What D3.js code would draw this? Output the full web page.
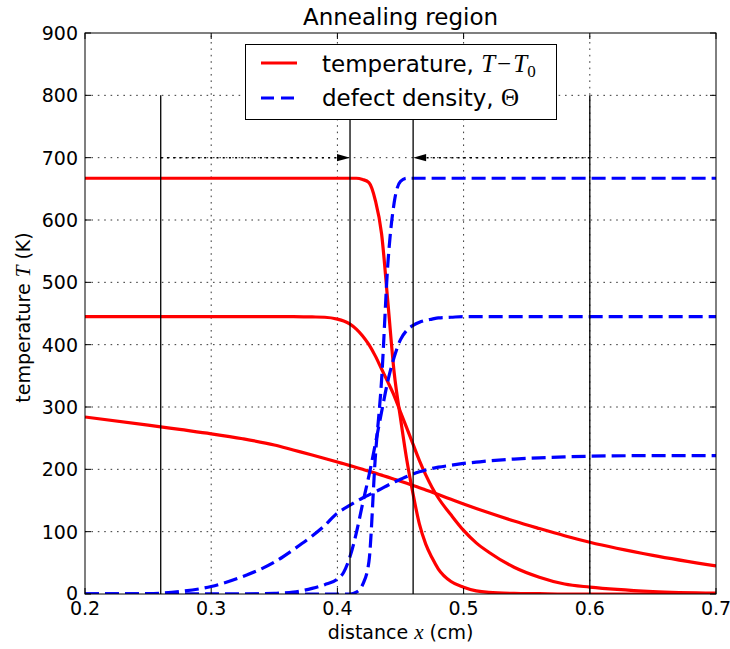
<!DOCTYPE html>
<html>
<head>
<meta charset="utf-8">
<script src="https://cdn.jsdelivr.net/npm/d3@7"></script>
<style>
  html, body { margin: 0; padding: 0; background: #fff; }
  svg { display: block; }
  text { font-family: "DejaVu Sans", sans-serif; fill: #000; }
  .math { font-family: "Liberation Serif", "DejaVu Serif", serif; }
</style>
</head>
<body>
<svg id="chart" width="730" height="649"></svg>
<script>
// Position along the bar (cm)
const xs = [0.20, 0.25, 0.275, 0.30, 0.325, 0.35, 0.365, 0.38, 0.39, 0.40, 0.405, 0.41,
            0.415, 0.42, 0.425, 0.43, 0.435, 0.44, 0.445, 0.45, 0.455, 0.46, 0.465, 0.47,
            0.475, 0.48, 0.49, 0.50, 0.51, 0.52, 0.54, 0.56, 0.58, 0.60, 0.65, 0.70];

// Temperature rise T - T0 (K), three profiles
const tempHigh = [667, 667, 667, 667, 667, 667, 667, 667, 667, 667, 667, 667,
                  667, 665, 660, 632, 578, 468, 355, 282, 215, 160, 112, 80,
                  58, 40, 20, 11, 5, 2.5, 1, 0.5, 0, 0, 0, 0];
const tempMid  = [445, 445, 445, 445, 445, 445, 445, 444.5, 444, 441, 438, 433,
                  425, 414, 400, 382, 361, 340, 318, 292, 266, 240, 214, 191,
                  171, 154, 127, 102, 82, 67, 43, 27, 16, 11, 4, 1.5];
const tempLow  = [284, 271, 264, 257, 249, 239, 231, 223, 217.5, 211.8, 208.9, 206,
                  203, 200, 197, 193.9, 190.7, 187.5, 184.2, 180.9, 177.5, 174, 170.5, 167,
                  163.3, 159.5, 152, 144.5, 137.2, 130.2, 117, 105, 93.5, 83, 62, 45];

// Defect density Theta, three profiles
const defectHigh = [0, 0, 0, 0, 0, 0, 0, 0, 0, 0, 0, 0,
                    3, 15, 52, 218, 343, 530, 628, 662, 667, 667, 667, 667,
                    667, 667, 667, 667, 667, 667, 667, 667, 667, 667, 667, 667];
const defectMid  = [0, 0, 0, 0, 0, 1, 3, 9, 15, 24, 35, 60,
                    98, 145, 190, 240, 292, 342, 380, 408, 423, 431, 436, 439,
                    441, 443, 444, 445, 445, 445, 445, 445, 445, 445, 445, 445];
const defectLow  = [0, 0.5, 4, 12, 28, 51, 71, 93, 110, 130, 136.5, 142.5,
                    148.5, 154, 159, 164, 169, 174.5, 179.5, 184, 188.5, 192.5, 196, 199,
                    201.5, 203.5, 206.5, 209.5, 211.5, 213.5, 216.5, 218.5, 220, 221, 222, 222];

// Boundaries of the annealing region and the arrows pointing at them
const markerX = [0.26, 0.41, 0.46, 0.60];
const markerTop = 800;
const arrows = [ { from: 0.26, to: 0.41 }, { from: 0.60, to: 0.46 } ];
const arrowY = 700;

const xTicks = [0.2, 0.3, 0.4, 0.5, 0.6, 0.7];
const yTicks = [0, 100, 200, 300, 400, 500, 600, 700, 800, 900];

const svg = d3.select("#chart");
const margin = { left: 85, right: 14, top: 33, bottom: 55 };
const W = 730, H = 649;
const x = d3.scaleLinear().domain([0.2, 0.7]).range([margin.left, W - margin.right]);
const y = d3.scaleLinear().domain([0, 900]).range([H - margin.bottom, margin.top]);
const x0 = x.range()[0], x1 = x.range()[1], y0 = y.range()[0], y1 = y.range()[1];

svg.append("defs").append("clipPath").attr("id", "plotclip")
  .append("rect").attr("x", x0).attr("y", y1).attr("width", x1 - x0).attr("height", y0 - y1);

// grid
const grid = svg.append("g").attr("stroke", "#000").attr("stroke-width", 0.8)
  .attr("stroke-dasharray", "1.6,4.8");
xTicks.slice(1, -1).forEach(t => grid.append("line")
  .attr("x1", x(t)).attr("x2", x(t)).attr("y1", y0).attr("y2", y1));
yTicks.slice(1, -1).forEach(t => grid.append("line")
  .attr("x1", x0).attr("x2", x1).attr("y1", y(t)).attr("y2", y(t)));

const plot = svg.append("g").attr("clip-path", "url(#plotclip)");

const line = d3.line().x(d => x(d[0])).y(d => y(d[1])).curve(d3.curveMonotoneX);
const zipped = vals => xs.map((v, i) => [v, vals[i]]);

[tempHigh, tempMid, tempLow].forEach(s => plot.append("path")
  .attr("d", line(zipped(s))).attr("fill", "none")
  .attr("stroke", "#ff0000").attr("stroke-width", 3.2));
[defectHigh, defectMid, defectLow].forEach(s => plot.append("path")
  .attr("d", line(zipped(s))).attr("fill", "none")
  .attr("stroke", "#0000ff").attr("stroke-width", 3.2)
  .attr("stroke-dasharray", "14,6"));

// vertical boundary lines
markerX.forEach(m => plot.append("line")
  .attr("x1", x(m)).attr("x2", x(m)).attr("y1", y(0)).attr("y2", y(markerTop))
  .attr("stroke", "#000").attr("stroke-width", 1.3));

// dotted arrows
arrows.forEach(a => {
  const dir = Math.sign(a.to - a.from);
  const tip = x(a.to), ay = y(arrowY), hl = 13, hw = 3.6;
  plot.append("line")
    .attr("x1", x(a.from)).attr("x2", tip - dir * hl).attr("y1", ay).attr("y2", ay)
    .attr("stroke", "#000").attr("stroke-width", 1.5).attr("stroke-dasharray", "2,4.2");
  plot.append("path")
    .attr("d", `M${tip},${ay} L${tip - dir * hl},${ay - hw} L${tip - dir * hl},${ay + hw} Z`)
    .attr("fill", "#000");
});

// frame
svg.append("rect").attr("x", x0).attr("y", y1).attr("width", x1 - x0).attr("height", y0 - y1)
  .attr("fill", "none").attr("stroke", "#000").attr("stroke-width", 1);

// inward ticks on all four sides
const tl = 6;
const ticks = svg.append("g").attr("stroke", "#000").attr("stroke-width", 1);
xTicks.forEach(t => {
  ticks.append("line").attr("x1", x(t)).attr("x2", x(t)).attr("y1", y0).attr("y2", y0 - tl);
  ticks.append("line").attr("x1", x(t)).attr("x2", x(t)).attr("y1", y1).attr("y2", y1 + tl);
});
yTicks.forEach(t => {
  ticks.append("line").attr("x1", x0).attr("x2", x0 + tl).attr("y1", y(t)).attr("y2", y(t));
  ticks.append("line").attr("x1", x1).attr("x2", x1 - tl).attr("y1", y(t)).attr("y2", y(t));
});

// tick labels
xTicks.forEach(t => svg.append("text")
  .attr("x", x(t)).attr("y", y0 + 21).attr("text-anchor", "middle")
  .attr("font-size", 19).text(d3.format(".1f")(t)));
yTicks.forEach(t => svg.append("text")
  .attr("x", x0 - 7).attr("y", y(t) + (t === 0 ? 6 : 7)).attr("text-anchor", "end")
  .attr("font-size", 19).text(t));

// title
svg.append("text").attr("x", (x0 + x1) / 2).attr("y", 25).attr("text-anchor", "middle")
  .attr("font-size", 23).text("Annealing region");

// axis labels
const xl = svg.append("text").attr("x", (x0 + x1) / 2).attr("y", 639)
  .attr("text-anchor", "middle").attr("font-size", 19);
xl.append("tspan").text("distance ");
xl.append("tspan").attr("class", "math").attr("font-style", "italic").attr("font-size", 21).text("x");
xl.append("tspan").text(" (cm)");

const yl = svg.append("text").attr("transform", `translate(30,${(y0 + y1) / 2 + 4}) rotate(-90)`)
  .attr("text-anchor", "middle").attr("font-size", 19);
yl.append("tspan").text("temperature ");
yl.append("tspan").attr("class", "math").attr("font-style", "italic").attr("font-size", 21).text("T");
yl.append("tspan").text(" (K)");

// legend
const lg = svg.append("g");
lg.append("rect").attr("x", 245.5).attr("y", 44.5).attr("width", 311).attr("height", 75)
  .attr("fill", "#fff").attr("stroke", "#000").attr("stroke-width", 1);
lg.append("line").attr("x1", 261).attr("x2", 297).attr("y1", 63).attr("y2", 63)
  .attr("stroke", "#ff0000").attr("stroke-width", 3.2);
lg.append("line").attr("x1", 261).attr("x2", 297).attr("y1", 98).attr("y2", 98)
  .attr("stroke", "#0000ff").attr("stroke-width", 3.2).attr("stroke-dasharray", "13,7");
const t1 = lg.append("text").attr("x", 322).attr("y", 71.5).attr("font-size", 23);
t1.append("tspan").text("temperature, ");
t1.append("tspan").attr("class", "math").attr("font-style", "italic").attr("font-size", 25).text("T");
t1.append("tspan").attr("class", "math").attr("font-size", 25).attr("dx", 2).text("\u2212");
t1.append("tspan").attr("class", "math").attr("font-style", "italic").attr("font-size", 25).attr("dx", 2).text("T");
t1.append("tspan").attr("class", "math").attr("font-size", 17).attr("dy", 5).text("0");
const t2 = lg.append("text").attr("x", 322).attr("y", 106).attr("font-size", 23);
t2.append("tspan").text("defect density, ");
t2.append("tspan").attr("class", "math").attr("font-size", 25).text("\u0398");
</script>
</body>
</html>
